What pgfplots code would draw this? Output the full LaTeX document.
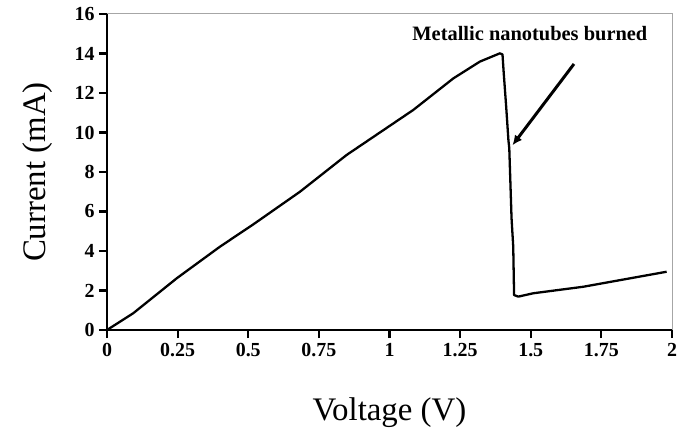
\documentclass[border=0pt]{standalone}
\usepackage{pgfplots}
\pgfplotsset{compat=1.18}
\usepackage{fontspec}
\setmainfont{Liberation Serif}
\usetikzlibrary{arrows.meta}
\begin{document}
\begin{tikzpicture}
\useasboundingbox (-107bp,-100bp) rectangle (575bp,330bp);
\begin{axis}[
  at={(0,0)}, anchor=south west,
  width=565bp, height=316bp, scale only axis,
  xmin=0, xmax=2, ymin=0, ymax=16,
  axis x line*=bottom, axis y line*=left,
  xtick={0,0.25,0.5,0.75,1,1.25,1.5,1.75,2},
  xticklabels={0,0.25,0.5,0.75,1,1.25,1.5,1.75,2},
  ytick={0,2,4,6,8,10,12,14,16},
  tick align=outside, major tick length=8bp,
  xtick style={black, line width=2.2pt},
  ytick style={black, line width=2.2pt},
  axis line style={black, line width=2.6pt},
  /pgf/number format/assume math mode=true,
  ticklabel style={font=\fontsize{20}{20}\selectfont\bfseries},
  xticklabel style={yshift=-2bp},
  yticklabel style={xshift=-1bp},
  xlabel={Voltage (V)},
  ylabel={Current (mA)},
  label style={font=\fontsize{33}{33}\selectfont},
  xlabel style={at={(axis description cs:0.5,-0.262)}, anchor=center},
  ylabel style={at={(axis description cs:-0.122,0.5)}, anchor=center},
  clip=false,
]
\addplot[black, line width=2.3pt, line join=round] coordinates {
(0,0)
(0.093,0.85)
(0.247,2.62)
(0.400,4.22)
(0.518,5.35)
(0.683,7.0)
(0.848,8.86)
(1.084,11.14)
(1.226,12.74)
(1.320,13.59)
(1.391,14.01)
(1.400,13.95)
(1.404,13.08)
(1.413,11.31)
(1.421,9.6)
(1.424,9.2)
(1.432,5.66)
(1.438,4.22)
(1.441,1.77)
(1.456,1.69)
(1.509,1.86)
(1.686,2.19)
(1.981,2.95)
};
\draw[gray!70, line width=1pt] (rel axis cs:0,1) -- (rel axis cs:1,1) -- (rel axis cs:1,0);
\draw[-{Latex[length=10bp,width=9bp]}, line width=3pt] (axis cs:1.653,13.47) -- (axis cs:1.435,9.35);
\node[font=\fontsize{20.5}{20.5}\selectfont\bfseries] at (axis cs:1.497,15.0) {Metallic nanotubes burned};
\end{axis}
\end{tikzpicture}
\end{document}
